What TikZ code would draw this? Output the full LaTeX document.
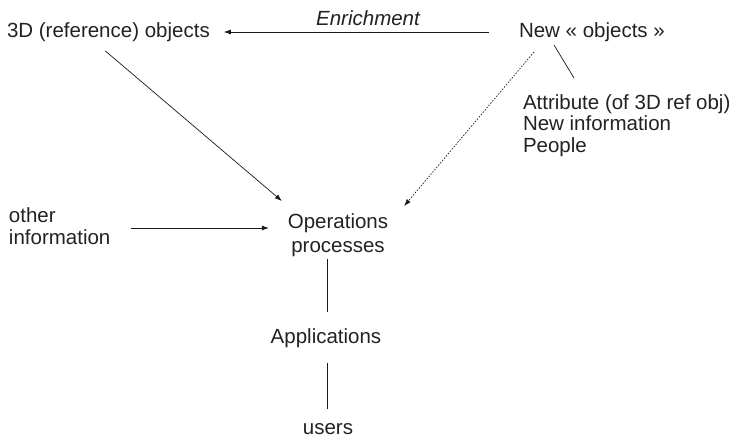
\documentclass[tikz,border=0pt]{standalone}
\usepackage{fontspec}
\setmainfont{Liberation Sans}
\usetikzlibrary{arrows.meta,calc}
\definecolor{txt}{HTML}{222222}
\begin{document}
\begin{tikzpicture}[x=1pt,y=-1pt,
  lbl/.style={inner sep=0pt,outer sep=0pt,text=txt,font=\fontsize{20.5}{23}\selectfont},
  conn/.style={line width=0.7pt,draw=black!90},
  arr/.style={conn,-{Latex[length=7pt,width=5pt]}},
  dotarr/.style={arr,dash pattern=on 1.5pt off 1.5pt}]
\useasboundingbox (0,0) rectangle (740,437);
% note: for multi-line nodes the base anchor is on the last line
\node[lbl,anchor=base west] (ref) at (7,37) {3D (reference) objects};
\node[lbl,anchor=base west] (new) at (519,37) {New « objects »};
\node[lbl,anchor=base,font=\fontsize{20.5}{23}\selectfont\itshape] (enr) at (368,25) {Enrichment};
\node[lbl,anchor=base west,align=left,font=\fontsize{20.5}{21.5}\selectfont] (attr) at (523,152) {Attribute (of 3D ref obj)\\New information\\People};
\node[lbl,anchor=base west,align=left,font=\fontsize{20.5}{22}\selectfont] (other) at (9,244) {other\\information};
\node[lbl,anchor=base,align=center,font=\fontsize{20.5}{24}\selectfont] (ops) at (338,252) {Operations\\processes};
\node[lbl,anchor=base] (app) at (326,343) {Applications};
\node[lbl,anchor=base] (users) at (328,434) {users};
% connectors
\draw[arr] ($(new.base west)+(-30,-5)$) -- ($(ref.base east)+(14,-5)$);
\draw[arr] ($(ref.base)+(-3,14)$) -- ($(ops.base west)+(-6,-51)$);
\draw[dotarr] ($(new.base west)+(15,15)$) -- ($(ops.base east)+(16,-46)$);
\draw[conn] ($(new.base west)+(35,8)$) -- ($(attr.base west)+(51,-74)$);
\draw[arr] ($(other.base west)+(122,-16)$) -- ($(ops.base west)+(-19,-24)$);
\draw[conn] ($(ops.base)+(-11,7)$) -- ($(app.base)+(1,-31)$);
\draw[conn] ($(app.base)+(1,20)$) -- ($(users.base)+(-1,-25)$);
\end{tikzpicture}
\end{document}
